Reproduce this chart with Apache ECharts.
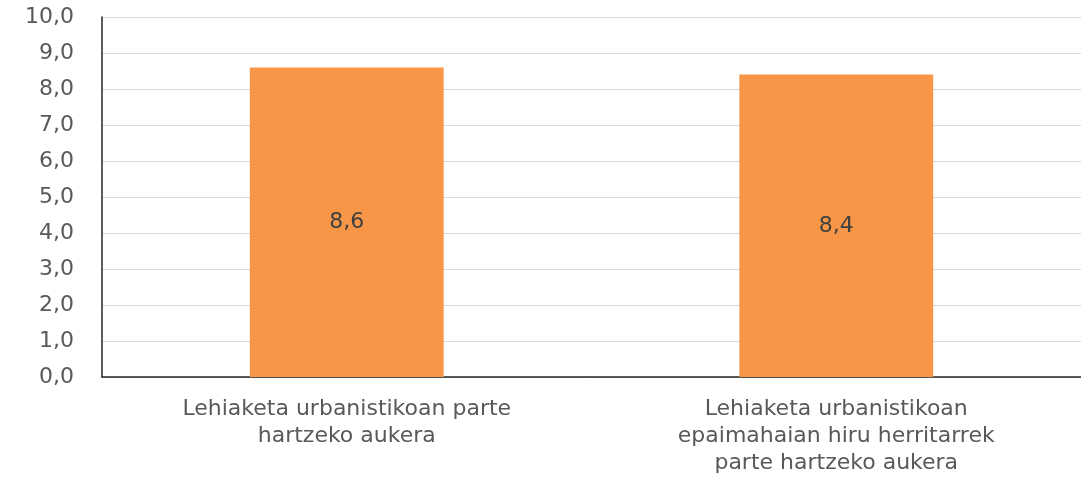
<!DOCTYPE html>
<html>
<head>
<meta charset="utf-8">
<script src="https://cdn.jsdelivr.net/npm/echarts@6/dist/echarts.min.js"></script>
<style>
  html, body { margin: 0; padding: 0; background: #fff; }
  #chart { width: 1081px; height: 477px; }
</style>
</head>
<body>
<div id="chart"></div>
<script>
var categories = [
    'Lehiaketa urbanistikoan parte\nhartzeko aukera',
    'Lehiaketa urbanistikoan\nepaimahaian hiru herritarrek\nparte hartzeko aukera'
];
var values = [8.6, 8.4];

var chart = echarts.init(document.getElementById('chart'));
var font = '"DejaVu Sans", Verdana, sans-serif';
var option = {
    animation: false,
    grid: {
        left: 102,
        right: -10,
        top: 17,
        bottom: 94
    },
    xAxis: {
        type: 'category',
        data: categories,
        axisTick: { show: false },
        axisLine: { lineStyle: { color: '#262626', width: 1.5 } },
        axisLabel: {
            interval: 0,
            margin: 19,
            color: '#595959',
            fontFamily: font,
            fontSize: 22,
            lineHeight: 27
        }
    },
    yAxis: {
        type: 'value',
        min: 0,
        max: 10,
        interval: 1,
        axisLine: { show: true, lineStyle: { color: '#262626', width: 1.5 } },
        axisTick: { show: false },
        splitLine: { lineStyle: { color: '#d9d9d9', width: 1 } },
        axisLabel: {
            margin: 28,
            color: '#595959',
            fontFamily: font,
            fontSize: 22,
            formatter: function (v) {
                return v.toFixed(1).replace('.', ',');
            }
        }
    },
    series: [{
        type: 'bar',
        data: values,
        barWidth: '39.6%',
        itemStyle: { color: '#F79646' },
        label: {
            show: true,
            position: 'inside',
            color: '#404040',
            fontFamily: font,
            fontSize: 22,
            formatter: function (p) {
                return p.value.toFixed(1).replace('.', ',');
            }
        }
    }]
};
chart.setOption(option);
</script>
</body>
</html>
